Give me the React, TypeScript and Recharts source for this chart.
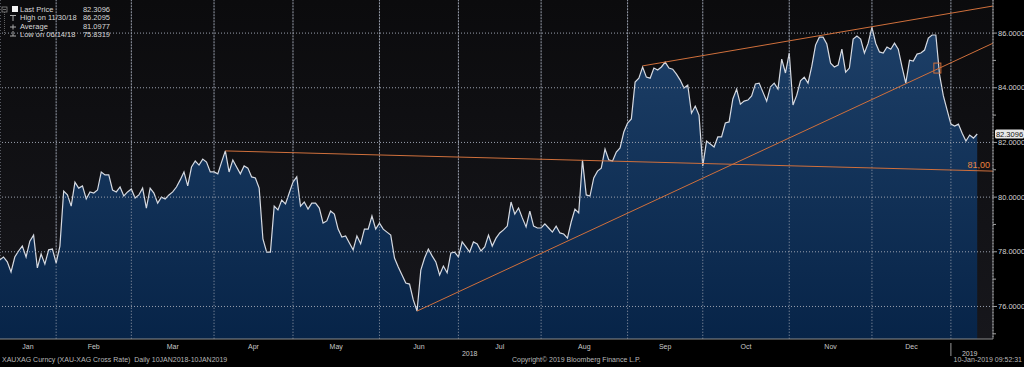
import React from 'react'
import { ComposedChart, Area, XAxis, YAxis, ReferenceLine, ReferenceDot, CartesianGrid } from 'recharts'

// XAU/XAG cross rate, one value per trading day, 10 Jan 2018 .. 10 Jan 2019
const prices = [
  77.70, 77.70, 77.81, 77.63, 77.26, 77.81, 78.03, 78.21, 77.81, 78.39,
  78.61, 77.41, 77.92, 77.55, 78.07, 78.10, 77.59, 78.21, 80.22, 80.08,
  79.67, 80.55, 80.33, 80.41, 79.93, 80.19, 80.15, 80.26, 80.92, 80.81,
  80.81, 80.26, 80.19, 80.37, 80.04, 80.19, 80.30, 79.97, 80.08, 80.33,
  79.60, 80.33, 80.15, 79.78, 80.00, 79.93, 80.08, 80.19, 80.37, 80.63,
  80.92, 80.41, 81.10, 81.32, 81.17, 81.39, 81.28, 80.92, 80.92, 80.85,
  81.28, 81.69, 80.92, 81.36, 81.10, 80.85, 81.14, 81.06, 80.74, 80.70,
  80.33, 78.47, 77.99, 77.99, 79.67, 79.53, 79.89, 79.75, 80.15, 80.55,
  80.74, 79.67, 79.82, 79.56, 79.78, 79.78, 79.60, 79.05, 79.13, 79.49,
  79.38, 78.83, 78.54, 78.58, 78.32, 78.07, 78.58, 78.29, 78.83, 78.83,
  79.31, 78.83, 79.05, 78.83, 78.72, 78.61, 77.77, 77.44, 77.15, 76.86,
  76.82, 76.24, 75.8319, 77.33, 77.77, 78.10, 77.85, 77.63, 77.15, 77.48,
  77.23, 77.96, 77.99, 77.81, 78.36, 78.18, 77.99, 78.36, 78.29, 78.03,
  78.18, 78.61, 78.21, 78.50, 78.69, 78.80, 78.94, 79.82, 79.38, 79.60,
  79.24, 78.91, 79.49, 78.94, 78.87, 78.87, 79.02, 78.87, 78.72, 78.94,
  78.69, 78.65, 78.50, 79.09, 79.56, 79.42, 81.36, 80.08, 80.04, 80.70,
  80.95, 81.06, 81.76, 81.36, 81.32, 81.65, 81.80, 82.38, 82.71, 82.86,
  84.21, 84.35, 84.76, 84.39, 84.35, 84.72, 84.65, 84.76, 84.94, 84.72,
  84.68, 84.50, 84.28, 83.99, 84.10, 83.07, 83.33, 83.00, 81.14, 82.05,
  81.94, 81.83, 82.20, 82.20, 82.71, 82.75, 83.59, 83.95, 83.40, 83.51,
  83.55, 83.70, 84.14, 84.17, 83.84, 83.51, 84.03, 84.17, 83.95, 85.05,
  84.54, 85.27, 83.37, 83.73, 84.25, 84.39, 84.17, 84.79, 85.56, 85.85,
  85.85, 85.60, 84.90, 84.76, 84.83, 85.41, 84.57, 84.72, 85.78, 85.89,
  85.78, 85.27, 85.63, 86.2095, 85.63, 85.31, 85.27, 85.49, 85.41, 85.63,
  85.41, 84.76, 84.17, 85.01, 84.98, 85.23, 85.27, 85.38, 85.82, 85.93,
  85.93, 84.46, 83.70, 83.18, 82.67, 82.60, 82.67, 82.34, 82.05, 82.27,
  82.16, 82.3096,
]

// trading-day index of the first session of each month (Feb 2018 .. Jan 2019)
const monthStarts = [16, 36, 58, 79, 102, 123, 145, 168, 188, 211, 233, 254]
const monthNames = ['Jan', 'Feb', 'Mar', 'Apr', 'May', 'Jun', 'Jul', 'Aug', 'Sep', 'Oct', 'Nov', 'Dec']
const yearNames = ['2018', '2019']
const yearDays = [126, 259]

const X_DOMAIN = [1.064, 265.2]
const Y_MIN = 74.81
const Y_MAX = 87.21
const yTicks = [75, 76, 77, 78, 79, 80, 81, 82, 83, 84, 85, 86]
const yGrid = [76, 78, 80, 82, 84, 86]

// hand-drawn trend lines: [start day, start value, end day, end value]
const trendLines = [
  [61, 81.69, 265.2, 80.95],
  [112, 75.8319, 265.2, 85.63],
  [172, 84.8, 265.2, 86.99],
]
const markerDay = 250.4
const markerValue = 84.72

const LAST = 82.3096
const legendRows = [
  ['Last Price', '82.3096'],
  ['High on 11/30/18', '86.2095'],
  ['Average', '81.0977'],
  ['Low on 06/14/18', '75.8319'],
]

const data = prices.map((p, i) => ({ day: i, price: p }))

const FONT = '"Liberation Sans", Arial, sans-serif'
const ORANGE = '#d0703c'
const GRID = '#9aa0ae'

type XTick = { day: number; text: string; kind: 'month' | 'year' | 'sep' }
const xTicks: XTick[] = [
  { day: (1 + monthStarts[0]) / 2, text: monthNames[0], kind: 'month' },
  ...monthStarts.slice(0, -1).map((d, i) => ({
    day: (d + monthStarts[i + 1]) / 2,
    text: monthNames[i + 1],
    kind: 'month' as const,
  })),
  ...yearNames.map((t, i) => ({ day: yearDays[i], text: t, kind: 'year' as const })),
  { day: monthStarts[monthStarts.length - 1], text: '', kind: 'sep' },
]

function DateTick({ x, y, index }: any) {
  const t = xTicks[index]
  if (!t) return null
  if (t.kind === 'sep') {
    return <line x1={x} x2={x} y1={y + 4} y2={y + 17} stroke="#9a9a9a" />
  }
  return (
    <text
      x={x}
      y={t.kind === 'month' ? y + 9.5 : y + 17}
      textAnchor="middle"
      fill="#c8c8c8"
      fontSize={7}
      fontFamily={FONT}
    >
      {t.text}
    </text>
  )
}

function PriceTick({ x, y, payload }: any) {
  const v = payload.value
  const major = v % 2 === 0
  return (
    <g>
      <line x1={x} x2={x + (major ? 4 : 3)} y1={y} y2={y} stroke="#a0a0a0" />
      {major && (
        <text x={x + 5} y={y + 2.6} fill="#d4d4d4" fontSize={7.5} fontFamily={FONT}>
          {v.toFixed(4)}
        </text>
      )}
    </g>
  )
}

function LastPriceLabel({ viewBox }: any) {
  const x = viewBox.x + viewBox.width + 2
  const y = viewBox.y
  return (
    <g>
      <rect x={x} y={y - 4.5} width={29} height={9} rx={1.5} fill="#e8e8e8" />
      <text x={x + 14.5} y={y + 2.6} textAnchor="middle" fill="#111" fontSize={7.5} fontFamily={FONT}>
        {LAST.toFixed(4)}
      </text>
    </g>
  )
}

function LevelLabel({ viewBox }: any) {
  return (
    <text
      x={viewBox.x + viewBox.width - 3}
      y={viewBox.y + viewBox.height - 3}
      textAnchor="end"
      fill="#e8843f"
      fontSize={9}
      fontFamily={FONT}
    >
      81,00
    </text>
  )
}

function Legend() {
  return (
    <svg width={114} height={42} style={{ position: 'absolute', left: 0, top: 0 }}>
      <rect x={2} y={7} width={5} height={5} fill="none" stroke="#888" strokeWidth={0.8} />
      <line x1={3} x2={6} y1={9.5} y2={9.5} stroke="#888" strokeWidth={0.8} />
      <line x1={4.5} x2={4.5} y1={12} y2={35} stroke="#777" strokeWidth={0.8} strokeDasharray="1 1" />
      <rect x={12} y={6} width={6} height={6} fill="#f4f4f4" />
      <line x1={10} x2={16} y1={15.5} y2={15.5} stroke="#aaa" />
      <line x1={13} x2={13} y1={15.5} y2={21} stroke="#aaa" />
      <line x1={10} x2={16} y1={27} y2={27} stroke="#aaa" />
      <line x1={13} x2={13} y1={24.5} y2={29.5} stroke="#aaa" />
      <line x1={13} x2={13} y1={31} y2={36} stroke="#aaa" />
      <line x1={10} x2={16} y1={36} y2={36} stroke="#aaa" />
      {legendRows.map(([name, val], i) => (
        <g key={name} fontFamily={FONT} fontSize={7.5} fill="#d8d8d8">
          <text x={20} y={12 + i * 8.4}>{name}</text>
          <text x={110} y={12 + i * 8.4} textAnchor="end">{val}</text>
        </g>
      ))}
    </svg>
  )
}

export default function App() {
  return (
    <div style={{ position: 'absolute', left: 0, top: 0, width: 1024, height: 367, background: '#000', overflow: 'hidden' }}>
      <ComposedChart width={1024} height={367} data={data} margin={{ top: 0, right: 0, bottom: 0, left: 0 }}>
        <defs>
          <linearGradient id="bgGrad" x1="0" y1="0" x2="0" y2="1">
            <stop offset="0%" stopColor="#0b0b0d" />
            <stop offset="100%" stopColor="#17171c" />
          </linearGradient>
          <linearGradient id="fillGrad" x1="0" y1="0" x2="0" y2="1">
            <stop offset="0%" stopColor="#1d3f67" />
            <stop offset="100%" stopColor="#072448" />
          </linearGradient>
        </defs>
        <CartesianGrid horizontal={false} vertical={false} fill="url(#bgGrad)" stroke="none" />
        <CartesianGrid xAxisId="grid" horizontal={false} stroke={GRID} strokeDasharray="1 2" />
        <XAxis
          xAxisId="grid"
          hide
          type="number"
          dataKey="day"
          domain={X_DOMAIN}
          allowDataOverflow
          ticks={monthStarts}
          interval={0}
        />
        <XAxis
          dataKey="day"
          type="number"
          domain={X_DOMAIN}
          allowDataOverflow
          ticks={xTicks.map((t) => t.day)}
          interval={0}
          tick={<DateTick />}
          tickLine={false}
          tickSize={0}
          tickMargin={0}
          height={28}
          axisLine={{ stroke: '#8c8c8c' }}
        />
        <YAxis
          orientation="right"
          type="number"
          domain={[Y_MIN, Y_MAX]}
          allowDataOverflow
          ticks={yTicks}
          interval={0}
          tick={<PriceTick />}
          tickLine={false}
          tickSize={0}
          tickMargin={0}
          width={31}
          axisLine={{ stroke: '#8c8c8c' }}
        />
        <Area
          type="linear"
          dataKey="price"
          stroke="#d6dae2"
          strokeWidth={1.2}
          fill="url(#fillGrad)"
          fillOpacity={1}
          dot={false}
          activeDot={false}
          isAnimationActive={false}
        />
        {monthStarts.map((d) => (
          <ReferenceLine
            key={'m' + d}
            segment={[{ x: d, y: Y_MIN + 0.01 }, { x: d, y: Y_MAX - 0.01 }]}
            stroke={GRID}
            strokeWidth={1}
            strokeDasharray="1 2"
            ifOverflow="hidden"
          />
        ))}
        {yGrid.map((v) => (
          <ReferenceLine key={'g' + v} y={v} stroke={GRID} strokeWidth={1} strokeDasharray="1 2" />
        ))}
        {trendLines.map(([d1, v1, d2, v2], i) => (
          <ReferenceLine
            key={'t' + i}
            segment={[{ x: d1, y: v1 }, { x: d2, y: v2 }]}
            stroke={ORANGE}
            strokeWidth={1}
            ifOverflow="hidden"
            label={i === 0 ? (p: any) => <LevelLabel {...p} /> : undefined}
          />
        ))}
        <ReferenceDot
          x={markerDay}
          y={markerValue}
          r={4}
          shape={(p: any) => (
            <rect x={p.cx - 3.5} y={p.cy - 5} width={7} height={10} fill="none" stroke={ORANGE} strokeWidth={1} />
          )}
        />
        <ReferenceLine y={LAST} stroke="none" label={(p: any) => <LastPriceLabel {...p} />} />
      </ComposedChart>
      <Legend />
      <div style={{ position: 'absolute', left: 2, top: 356, fontFamily: FONT, fontSize: 7, color: '#b8b8b8', whiteSpace: 'pre' }}>
        {'XAUXAG Curncy (XAU-XAG Cross Rate)  Daily 10JAN2018-10JAN2019'}
      </div>
      <div style={{ position: 'absolute', left: 512, top: 356, fontFamily: FONT, fontSize: 7, color: '#b8b8b8' }}>
        Copyright© 2019 Bloomberg Finance L.P.
      </div>
      <div style={{ position: 'absolute', right: 2, top: 356, fontFamily: FONT, fontSize: 7, color: '#b8b8b8' }}>
        10-Jan-2019 09:52:31
      </div>
    </div>
  )
}
